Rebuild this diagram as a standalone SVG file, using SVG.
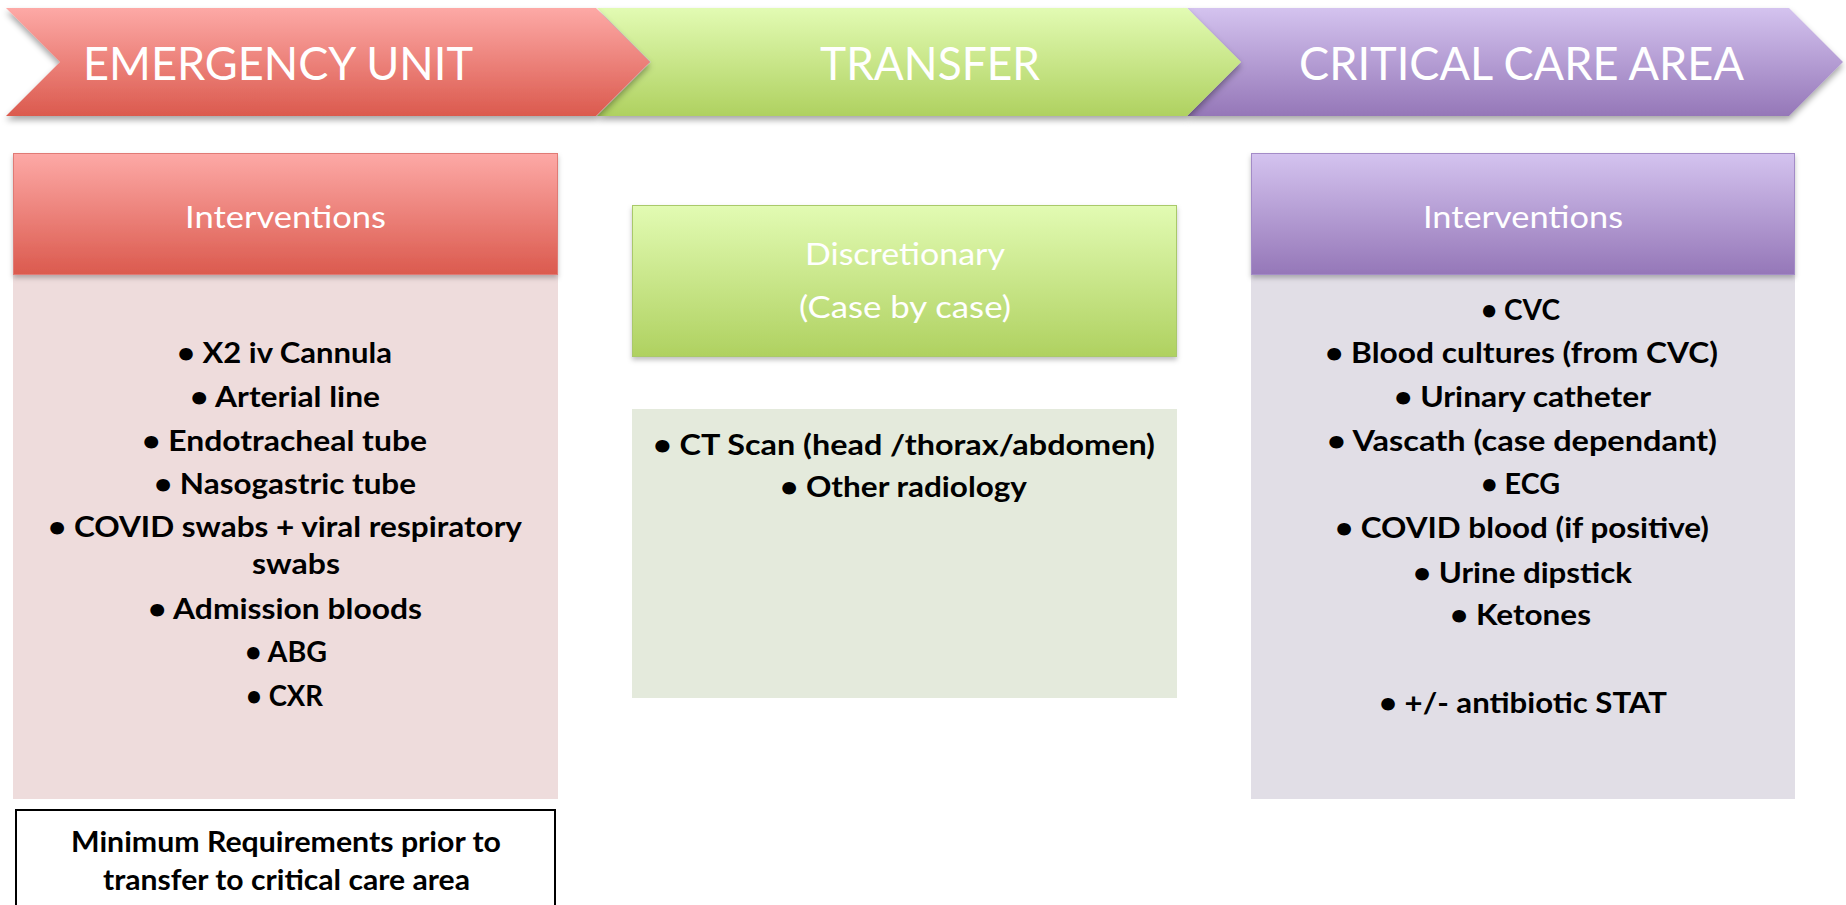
<svg xmlns="http://www.w3.org/2000/svg" width="1846" height="905" viewBox="0 0 1846 905">
<defs>
<linearGradient id="gRed" x1="0" y1="0" x2="0" y2="1"><stop offset="0" stop-color="#FDA9A6"/><stop offset="1" stop-color="#DB5A4E"/></linearGradient>
<linearGradient id="gGreen" x1="0" y1="0" x2="0" y2="1"><stop offset="0" stop-color="#E2FBB3"/><stop offset="1" stop-color="#AFD160"/></linearGradient>
<linearGradient id="gPurple" x1="0" y1="0" x2="0" y2="1"><stop offset="0" stop-color="#D4C3EF"/><stop offset="1" stop-color="#9577B8"/></linearGradient>
<filter id="sh" x="-5%" y="-20%" width="110%" height="150%"><feDropShadow dx="0" dy="4" stdDeviation="3" flood-color="#000" flood-opacity="0.35"/></filter>
<filter id="shs" x="-5%" y="-20%" width="110%" height="150%"><feDropShadow dx="0" dy="3" stdDeviation="2.5" flood-color="#000" flood-opacity="0.25"/></filter>
</defs>
<style>
.title{font-family:Lato,"Open Sans","Liberation Sans",sans-serif;font-weight:400;font-size:47px;fill:#fff}
.hdr{font-family:Lato,"Open Sans","Liberation Sans",sans-serif;font-weight:400;font-size:31px;fill:#fff}
.item{font-family:Lato,"Open Sans","Liberation Sans",sans-serif;font-weight:700;font-size:28px;fill:#000}
</style>
<rect width="1846" height="905" fill="#fff"/>

<g id="stage-critical-care">
<polygon points="1187,8 1789,8 1843,62 1789,116 1187,116 1241,62" fill="url(#gPurple)" filter="url(#sh)"/>
<text class="title" x="1299" y="80" textLength="445" lengthAdjust="spacingAndGlyphs">CRITICAL CARE AREA</text>
</g>
<g id="stage-transfer">
<polygon points="597,8 1187,8 1241,62 1187,116 597,116 651,62" fill="url(#gGreen)" filter="url(#sh)"/>
<text class="title" x="820" y="80" textLength="220" lengthAdjust="spacingAndGlyphs">TRANSFER</text>
</g>
<g id="stage-emergency">
<polygon points="6,8 596,8 650,62 596,116 6,116 60,62" fill="url(#gRed)" filter="url(#sh)"/>
<text class="title" x="83" y="80" textLength="390" lengthAdjust="spacingAndGlyphs">EMERGENCY UNIT</text>
</g>

<g id="eu-list">
<rect x="13" y="274" width="545" height="525" fill="#EEDCDC"/>
<text class="item" x="177" y="363" textLength="215" lengthAdjust="spacingAndGlyphs">• X2 iv Cannula</text>
<text class="item" x="190" y="407" textLength="190" lengthAdjust="spacingAndGlyphs">• Arterial line</text>
<text class="item" x="142" y="451" textLength="285" lengthAdjust="spacingAndGlyphs">• Endotracheal tube</text>
<text class="item" x="154" y="494" textLength="262" lengthAdjust="spacingAndGlyphs">• Nasogastric tube</text>
<text class="item" x="48" y="537" textLength="474" lengthAdjust="spacingAndGlyphs">• COVID swabs + viral respiratory</text>
<text class="item" x="252" y="574" textLength="88" lengthAdjust="spacingAndGlyphs">swabs</text>
<text class="item" x="148" y="619" textLength="274" lengthAdjust="spacingAndGlyphs">• Admission bloods</text>
<text class="item" x="245" y="662" textLength="82" lengthAdjust="spacingAndGlyphs">• ABG</text>
<text class="item" x="246" y="706" textLength="77" lengthAdjust="spacingAndGlyphs">• CXR</text>
</g>
<g id="eu-header">
<rect x="13.5" y="153.5" width="544" height="121" fill="url(#gRed)" stroke="#E07A74" stroke-width="1" filter="url(#shs)"/>
<text class="hdr" x="185" y="228" textLength="201" lengthAdjust="spacingAndGlyphs">Interventions</text>
</g>
<g id="eu-minimum">
<rect x="16" y="810" width="539" height="120" fill="#fff" stroke="#000" stroke-width="2"/>
<text class="item" x="71" y="852" textLength="430" lengthAdjust="spacingAndGlyphs">Minimum Requirements prior to</text>
<text class="item" x="103" y="890" textLength="367" lengthAdjust="spacingAndGlyphs">transfer to critical care area</text>
</g>

<g id="tr-header">
<rect x="632.5" y="205.5" width="544" height="151" fill="url(#gGreen)" stroke="#A9C96B" stroke-width="1" filter="url(#shs)"/>
<text class="hdr" x="805" y="265" textLength="200" lengthAdjust="spacingAndGlyphs">Discretionary</text>
<text class="hdr" x="799" y="318" textLength="212" lengthAdjust="spacingAndGlyphs">(Case by case)</text>
</g>
<g id="tr-list">
<rect x="632" y="409" width="545" height="289" fill="#E4EADC"/>
<text class="item" x="653" y="455" textLength="502" lengthAdjust="spacingAndGlyphs">• CT Scan (head /thorax/abdomen)</text>
<text class="item" x="780" y="497" textLength="247" lengthAdjust="spacingAndGlyphs">• Other radiology</text>
</g>

<g id="cc-list">
<rect x="1251" y="274" width="544" height="525" fill="#E1DEE6"/>
<text class="item" x="1481" y="320" textLength="79" lengthAdjust="spacingAndGlyphs">• CVC</text>
<text class="item" x="1325" y="363" textLength="393" lengthAdjust="spacingAndGlyphs">• Blood cultures (from CVC)</text>
<text class="item" x="1394" y="407" textLength="257" lengthAdjust="spacingAndGlyphs">• Urinary catheter</text>
<text class="item" x="1327" y="451" textLength="390" lengthAdjust="spacingAndGlyphs">• Vascath (case dependant)</text>
<text class="item" x="1481" y="494" textLength="79" lengthAdjust="spacingAndGlyphs">• ECG</text>
<text class="item" x="1335" y="538" textLength="374" lengthAdjust="spacingAndGlyphs">• COVID blood (if positive)</text>
<text class="item" x="1413" y="583" textLength="219" lengthAdjust="spacingAndGlyphs">• Urine dipstick</text>
<text class="item" x="1450" y="625" textLength="141" lengthAdjust="spacingAndGlyphs">• Ketones</text>
<text class="item" x="1379" y="713" textLength="288" lengthAdjust="spacingAndGlyphs">• +/- antibiotic STAT</text>
</g>
<g id="cc-header">
<rect x="1251.5" y="153.5" width="543" height="121" fill="url(#gPurple)" stroke="#A38BC7" stroke-width="1" filter="url(#shs)"/>
<text class="hdr" x="1423" y="228" textLength="200" lengthAdjust="spacingAndGlyphs">Interventions</text>
</g>

<g id="connectors"/>
</svg>
